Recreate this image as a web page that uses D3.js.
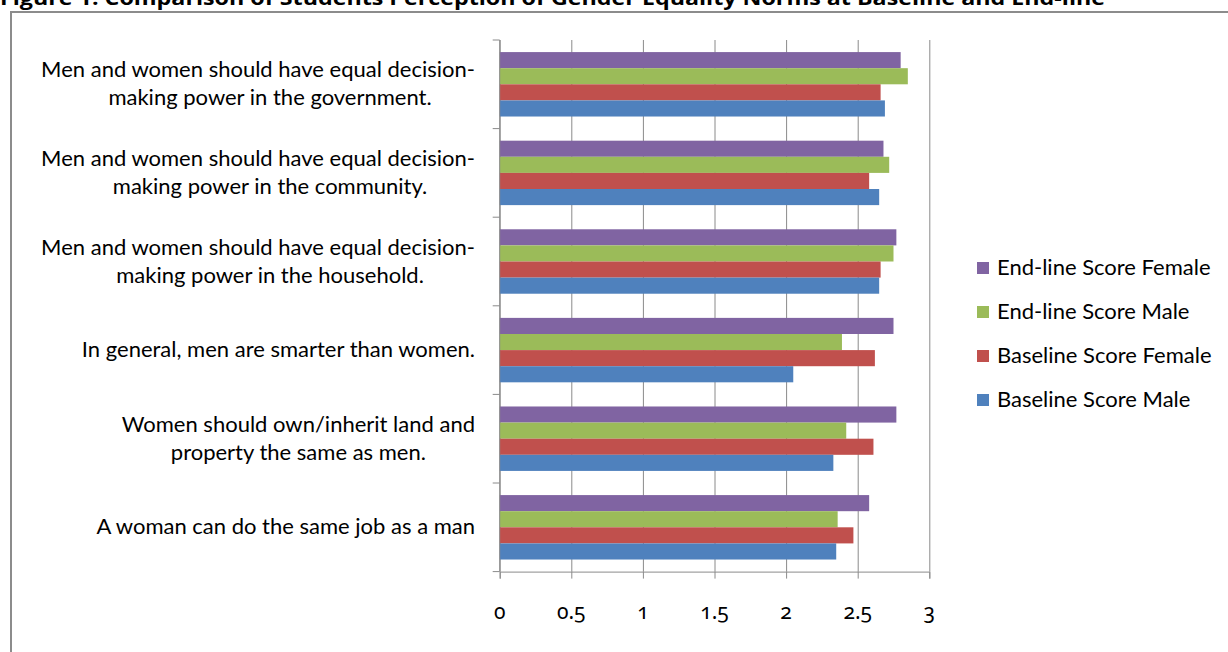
<html><head>
  <script src="https://d3js.org/d3.v7.min.js"></script>
  <style>
    body { margin: 0; background: #fff; }
    .lbl { font-family: Lato, 'Open Sans', sans-serif; font-size: 22px; fill: #000; }
    .tick-lbl { font-family: 'Noto Sans', sans-serif; font-size: 21px; font-variant-numeric: oldstyle-nums; fill: #000; }
    .grid line { stroke: #8a8a8a; stroke-width: 1; }
  </style>
</head>
<body>
  <script>
    // categories, top to bottom
    const categories = [
      ["Men and women should have equal decision-", "making power in the government."],
      ["Men and women should have equal decision-", "making power in the community."],
      ["Men and women should have equal decision-", "making power in the household."],
      ["In general, men are smarter than women."],
      ["Women should own/inherit land and", "property the same as men."],
      ["A woman can do the same job as a man"]
    ]
    // series, top bar to bottom bar inside each category
    const seriesNames = ["End-line Score Female", "End-line Score Male", "Baseline Score Female", "Baseline Score Male"]
    const seriesColors = ["#8064A2", "#9BBB59", "#C0504D", "#4F81BD"]
    const endFemale  = [2.80, 2.68, 2.77, 2.75, 2.77, 2.58]
    const endMale    = [2.85, 2.72, 2.75, 2.39, 2.42, 2.36]
    const baseFemale = [2.66, 2.58, 2.66, 2.62, 2.61, 2.47]
    const baseMale   = [2.69, 2.65, 2.65, 2.05, 2.33, 2.35]
    const xTicks = [0, 0.5, 1, 1.5, 2, 2.5, 3]
    const xTickLabels = ["0", "0.5", "1", "1.5", "2", "2.5", "3"]

    const seriesValues = [endFemale, endMale, baseFemale, baseMale]

    const svg = d3.select("body").append("svg")
                  .attr("width", 1228).attr("height", 652)
                  .style("display", "block")

    // title, cut off at the top edge like the source
    svg.append("text")
       .text("Figure 1: Comparison of Students Perception of Gender Equality Norms at Baseline and End-line")
       .attr("x", 0).attr("y", 5)
       .attr("textLength", 1105).attr("lengthAdjust", "spacingAndGlyphs")
       .style("font-family", "'Open Sans', sans-serif")
       .style("font-weight", "bold")
       .style("font-size", "19px")

    // chart frame
    svg.append("rect")
       .attr("x", 11).attr("y", 12)
       .attr("width", 1240).attr("height", 660)
       .attr("fill", "none").attr("stroke", "#8c8c8c").attr("stroke-width", 2)

    const plot = {left: 499.7, right: 929.3, top: 40, bottom: 571.6}

    const xScale = d3.scaleLinear().domain([0, 3]).range([plot.left, plot.right])
    const catScale = d3.scaleBand().domain(d3.range(categories.length))
                       .range([plot.top, plot.bottom]).paddingInner(0).paddingOuter(0)
    const serScale = d3.scaleBand().domain(d3.range(seriesNames.length))
                       .range([0, catScale.bandwidth()]).paddingInner(0).paddingOuter(0.75)

    // vertical gridlines
    svg.append("g").attr("class", "grid")
       .attr("transform", `translate(0,${plot.top})`)
       .call(d3.axisBottom(xScale).tickValues(xTicks).tickSize(plot.bottom - plot.top).tickFormat(""))
       .call(g => g.select(".domain").remove())

    // bars
    seriesValues.forEach((vals, s) => {
      svg.append("g").selectAll("rect").data(vals).join("rect")
         .attr("x", xScale(0))
         .attr("y", (d, i) => catScale(i) + serScale(s))
         .attr("width", d => xScale(d) - xScale(0))
         .attr("height", serScale.bandwidth())
         .attr("fill", seriesColors[s])
    })

    // left axis with ticks at category boundaries
    const boundaries = d3.range(categories.length + 1).map(i => plot.top + i * catScale.step())
    const leftAx = svg.append("g")
    leftAx.append("line").attr("x1", plot.left).attr("x2", plot.left)
          .attr("y1", plot.top).attr("y2", plot.bottom).attr("stroke", "#8a8a8a")
    leftAx.selectAll("line.t").data(boundaries).join("line").attr("class", "t")
          .attr("x1", plot.left - 7).attr("x2", plot.left)
          .attr("y1", d => d).attr("y2", d => d).attr("stroke", "#8a8a8a")

    // bottom axis
    svg.append("g")
       .attr("transform", `translate(0,${plot.bottom})`)
       .call(d3.axisBottom(xScale).tickValues(xTicks).tickSize(7).tickFormat(""))
       .call(g => g.selectAll("line, path").attr("stroke", "#8a8a8a"))

    svg.append("g").selectAll("text").data(xTicks).join("text")
       .attr("class", "tick-lbl")
       .attr("x", d => xScale(d)).attr("y", 619)
       .attr("text-anchor", "middle")
       .text((d, i) => xTickLabels[i])

    // category labels
    const labelRight = 475
    const lineGap = 28
    categories.forEach((lines, i) => {
      const cy = catScale(i) + catScale.bandwidth() / 2
      const g = svg.append("g")
      const first = g.append("text").attr("class", "lbl")
                     .attr("x", labelRight).attr("text-anchor", "end")
                     .attr("y", cy - (lines.length - 1) * lineGap / 2 + 7)
                     .text(lines[0])
      if (lines.length > 1) {
        const w = first.node().getComputedTextLength()
        const shift = lines[0].endsWith("-") ? 12 : 0
        g.append("text").attr("class", "lbl")
         .attr("x", labelRight - w / 2 + shift).attr("text-anchor", "middle")
         .attr("y", cy + lineGap / 2 + 7)
         .text(lines[1])
      }
    })

    // legend
    const legend = svg.append("g")
    seriesNames.forEach((name, s) => {
      const y = 268 + s * 44
      legend.append("rect").attr("x", 977).attr("y", y - 6)
            .attr("width", 12).attr("height", 12).attr("fill", seriesColors[s])
      legend.append("text").attr("class", "lbl")
            .attr("x", 997).attr("y", y + 7).text(name)
    })
  </script>
</body></html>
